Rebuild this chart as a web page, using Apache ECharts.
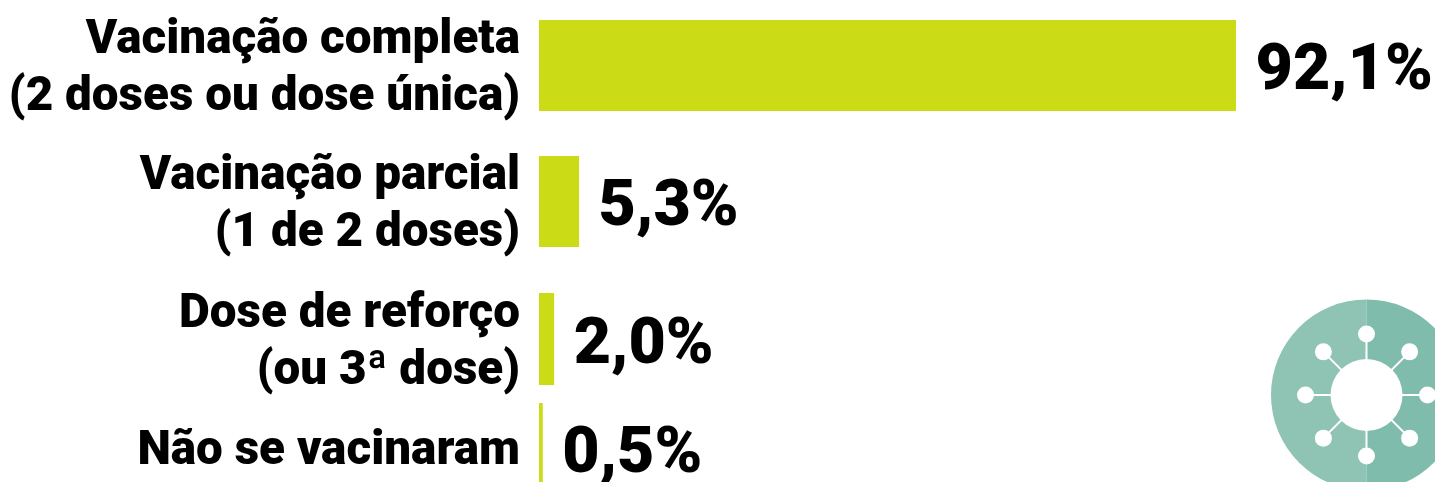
<!DOCTYPE html>
<html><head><meta charset="utf-8">
<style>html,body{margin:0;padding:0;background:#fff;overflow:hidden}#c{width:1435px;height:482px}</style>
<script src="https://cdn.jsdelivr.net/npm/echarts@6/dist/echarts.min.js"></script>
</head><body><div id="c"></div>
<script>
const categories = ['Vacinação completa\n(2 doses ou dose única)','Vacinação parcial\n(1 de 2 doses)','Dose de reforço\n(ou 3ª dose)','Não se vacinaram'];
const values = [92.1,5.3,2.0,0.5];

const rows = [
 {top:20,height:91,labelShift:8,valueDy:7},
 {top:156,height:91,labelShift:8,valueDy:7},
 {top:293,height:92,labelShift:10,valueDy:8},
 {top:403,height:91,labelShift:8,valueDy:7}];
const barColor = '#cbdb16';
const font = 'Roboto';
const chart = echarts.init(document.getElementById('c'),null,{renderer:'canvas'});
const cx=1366.5, cy=395, R=95.5, hub=36, dist=61, knob=8.5;
const icon=[
 {type:'sector',shape:{cx,cy,r:R,startAngle:Math.PI/2,endAngle:Math.PI*1.5},style:{fill:'#8fc4b4'}},
 {type:'sector',shape:{cx,cy,r:R,startAngle:-Math.PI/2,endAngle:Math.PI/2},style:{fill:'#7fbcab'}},
];
for(let i=0;i<8;i++){
  const a=i*Math.PI/4, x=cx+dist*Math.cos(a), y=cy+dist*Math.sin(a);
  icon.push({type:'line',shape:{x1:cx,y1:cy,x2:x,y2:y},style:{stroke:'#fff',lineWidth:2}});
  icon.push({type:'circle',shape:{cx:x,cy:y,r:knob},style:{fill:'#fff'}});
}
icon.push({type:'circle',shape:{cx,cy,r:hub},style:{fill:'#fff'}});
chart.setOption({
  animation:false,
  backgroundColor:'#fff',
  graphic:icon,
  grid:rows.map(r=>({left:539,width:893,top:r.top,height:r.height,containLabel:false,outerBoundsMode:'none'})),
  xAxis:rows.map((r,i)=>({type:'value',gridIndex:i,min:0,max:118,show:false})),
  yAxis:rows.map((r,i)=>({type:'category',gridIndex:i,data:[categories[i]],
    axisLine:{show:false},axisTick:{show:false},splitLine:{show:false},
    axisLabel:{margin:19,align:'right',
      formatter:v=>'{g| }\n'+v.split('\n').map(l=>'{t|'+l+'}').join('\n'),
      rich:{
        g:{fontSize:1,lineHeight:r.labelShift,height:r.labelShift,align:'right'},
        t:{align:'right',fontFamily:font,fontWeight:900,fontSize:47.6,lineHeight:57,color:'#000'}
      }}})),
  series:rows.map((r,i)=>({type:'bar',xAxisIndex:i,yAxisIndex:i,data:[values[i]],barWidth:'100%',silent:true,
    itemStyle:{color:barColor},
    label:{show:true,position:'right',distance:19.5,offset:[0,r.valueDy],fontFamily:font,fontWeight:900,fontSize:64.5,color:'#000',
      formatter:p=>p.value.toFixed(1).replace('.',',')+'%'}}))
});
</script></body></html>
